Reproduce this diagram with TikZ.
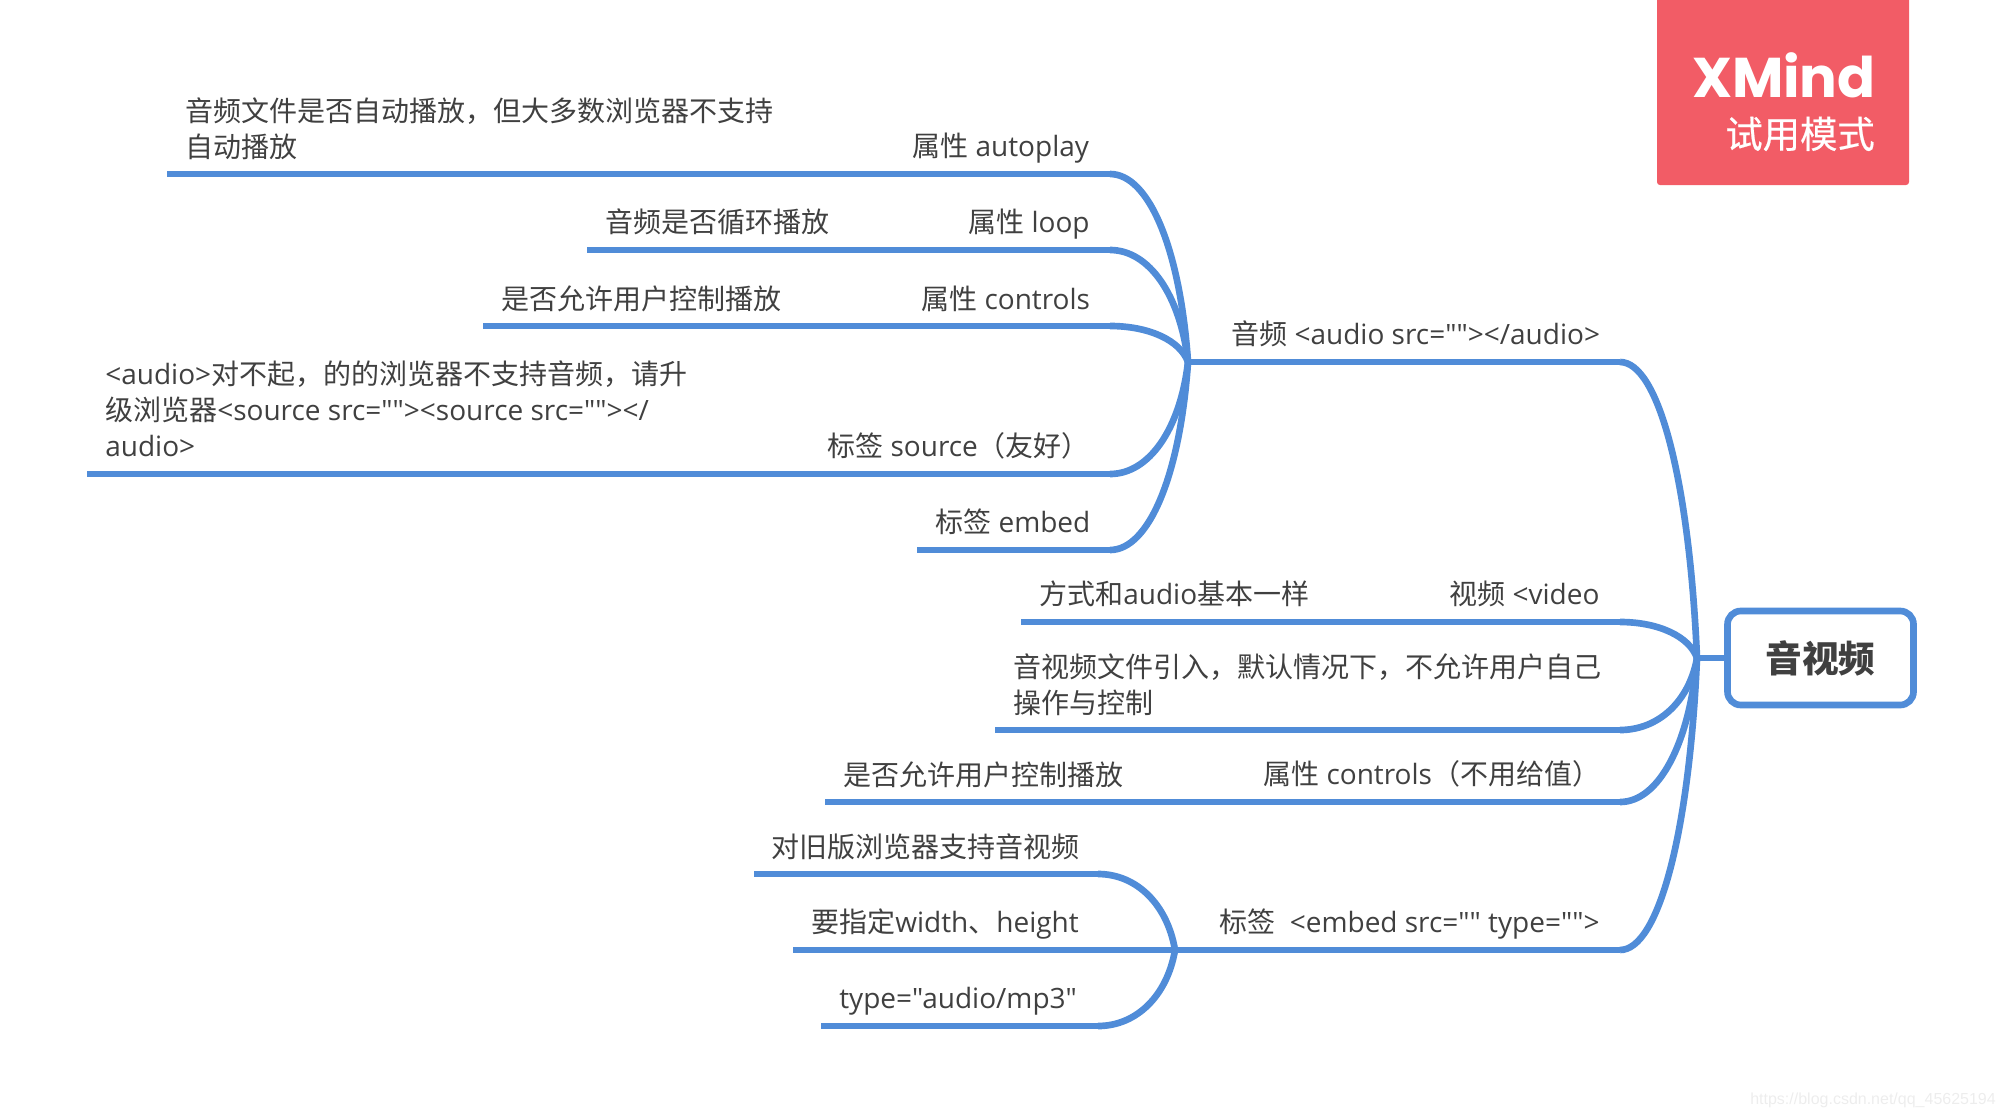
\documentclass[tikz,border=0pt]{standalone}
\usepackage{fontspec}
\newfontfamily\body{Open Sans}
\newfontfamily\cjk{Noto Sans CJK SC}
\newfontfamily\cjkm[FakeBold=0.5]{Noto Sans CJK SC}
\newfontfamily\pop{Poppins}
\newfontfamily\wm{Liberation Sans}
\newcommand{\zh}[1]{{\cjk #1}}
\usetikzlibrary{calc}
\definecolor{linkblue}{HTML}{508CD8}
\definecolor{ink}{HTML}{404040}
\definecolor{badge}{HTML}{F25C66}
\tikzset{
  link/.style={draw=linkblue,line width=5pt,line cap=butt},
  thin link/.style={draw=linkblue,line width=3.8pt},
  topic/.style={anchor=south west,inner sep=0pt,text depth=0pt,text=ink,font=\body\fontsize{21}{27}\selectfont,align=left},
}
\newcommand{\curvelink}[2]{%
  \draw[link] let \p1=(#1),\p2=(#2) in (\p1) .. controls ({\x1+0.5*(\x2-\x1)},\y1) and ({\x2-0.1*(\x2-\x1)},{\y2-0.6*(\y2-\y1)}) .. (\p2);}
\begin{document}
\begin{tikzpicture}[x=0.75pt,y=-0.75pt]
\useasboundingbox (0,0) rectangle (2003,1117);
% badge
\fill[badge,rounded corners=2.2pt] (1657,-8) rectangle (1909,185);
\node[anchor=base east,inner sep=0pt,text=white,font=\pop\bfseries\fontsize{42}{50}\selectfont] (xm) at (1876,97) {XMind};
\node[anchor=base east,inner sep=0pt,text=white,font=\cjkm\fontsize{28}{32}\selectfont] (trial) at (1875,148) {试用模式};
% watermark
\node[anchor=base west,inner sep=0pt,text=black!7,font=\wm\fontsize{12}{14}\selectfont] (mark) at (1750,1104) {https://blog.csdn.net/qq\_45625194};
% root
\node[draw=linkblue,line width=5pt,rounded corners=10pt,minimum width=139.5pt,minimum height=70.5pt,inner sep=0pt,text=ink,font=\cjk\bfseries\fontsize{27.5}{30}\selectfont] (root) at (1820.5,658) {音视频};
\coordinate (hub) at (1697,658);
\draw[link] (root.west) -- (hub);
% first-level
\coordinate (aHub) at (1188,362); \coordinate (aEnd) at (1620,362);
\coordinate (vEnd) at (1620,622); \coordinate (vLeft) at (1431,622);
\coordinate (iEnd) at (1620,730); \coordinate (iLeft) at (995,730);
\coordinate (cEnd) at (1620,802); \coordinate (cLeft) at (1245,802);
\coordinate (eEnd) at (1620,950); \coordinate (eHub) at (1175,950);
\draw[link] (aHub) -- (aEnd); \curvelink{aEnd}{hub}
\draw[link] (vLeft) -- (vEnd); \curvelink{vEnd}{hub}
\draw[link] (iLeft) -- (iEnd); \curvelink{iEnd}{hub}
\draw[link] (cLeft) -- (cEnd); \curvelink{cEnd}{hub}
\draw[link] (eHub) -- (eEnd); \curvelink{eEnd}{hub}
% audio children
\coordinate (ap) at (1110,174); \coordinate (apL) at (895,174);
\coordinate (lp) at (1110,250); \coordinate (lpL) at (950,250);
\coordinate (ct) at (1110,326); \coordinate (ctL) at (903,326);
\coordinate (sr) at (1110,474); \coordinate (srL) at (808,474);
\coordinate (em) at (1110,550); \coordinate (emL) at (917,550);
\foreach \a/\b in {ap/apL,lp/lpL,ct/ctL,sr/srL,em/emL}{\draw[link] (\a) -- (\b); \curvelink{\a}{aHub}}
% leaf lines
\coordinate (apD) at (792,174); \coordinate (apDL) at (167,174);
\coordinate (lpD) at (848,250); \coordinate (lpDL) at (587,250);
\coordinate (ctD) at (801,326); \coordinate (ctDL) at (483,326);
\coordinate (srD) at (705,474); \coordinate (srDL) at (87,474);
\coordinate (vD) at (1328,622); \coordinate (vDL) at (1021,622);
\coordinate (cD) at (1142,802); \coordinate (cDL) at (825,802);
\foreach \a/\b/\c in {apD/apDL/apL,lpD/lpDL/lpL,ctD/ctDL/ctL,srD/srDL/srL,vD/vDL/vLeft,cD/cDL/cLeft}{\draw[link] (\a) -- (\b); \draw[thin link] (\a) -- (\c);}
% embed children
\coordinate (e1) at (1098,874); \coordinate (e1L) at (754,874);
\coordinate (e2) at (1098,950); \coordinate (e2L) at (793,950);
\coordinate (e3) at (1098,1026); \coordinate (e3L) at (821,1026);
\foreach \a/\b in {e1/e1L,e2/e2L,e3/e3L}{\draw[link] (\a) -- (\b); \curvelink{\a}{eHub}}
% labels
\node[topic] (tA) at (1231,345) {\zh{音频} <audio src=""></audio>};
\node[topic] (tAp) at (912,157) {\zh{属性} autoplay};
\node[topic] (tLp) at (968,233) {\zh{属性} loop};
\node[topic] (tCt) at (921,309.5) {\zh{属性} controls};
\node[topic] (tSr) at (827,457) {\zh{标签} source\zh{（友好）}};
\node[topic] (tEm) at (935,533) {\zh{标签} embed};
\node[topic] (dAp) at (185,158) {\zh{音频文件是否自动播放，但大多数浏览器不支持}\\\zh{自动播放}};
\node[topic] (dLp) at (605,233) {\zh{音频是否循环播放}};
\node[topic] (dCt) at (501,310) {\zh{是否允许用户控制播放}};
\node[topic] (dSr) at (105,457) {<audio>\zh{对不起，的的浏览器不支持音频，请升}\\\zh{级浏览器}<source src=""><source src=""></\\audio>};
\node[topic] (tV) at (1449,605) {\zh{视频} <video};
\node[topic] (dV) at (1039,605) {\zh{方式和}audio\zh{基本一样}};
\node[topic] (tI) at (1013,714) {\zh{音视频文件引入，默认情况下，不允许用户自己}\\\zh{操作与控制}};
\node[topic] (tC) at (1263,785) {\zh{属性} controls\zh{（不用给值）}};
\node[topic] (dC) at (843,786) {\zh{是否允许用户控制播放}};
\node[topic] (tE) at (1219,933) {\zh{标签}\ \ <embed src="" type="">};
\node[topic] (d1) at (771,858) {\zh{对旧版浏览器支持音视频}};
\node[topic] (d2) at (811,933) {\zh{要指定}width\zh{、}height};
\node[topic] (d3) at (839,1009) {type="audio/mp3"};
\end{tikzpicture}
\end{document}
